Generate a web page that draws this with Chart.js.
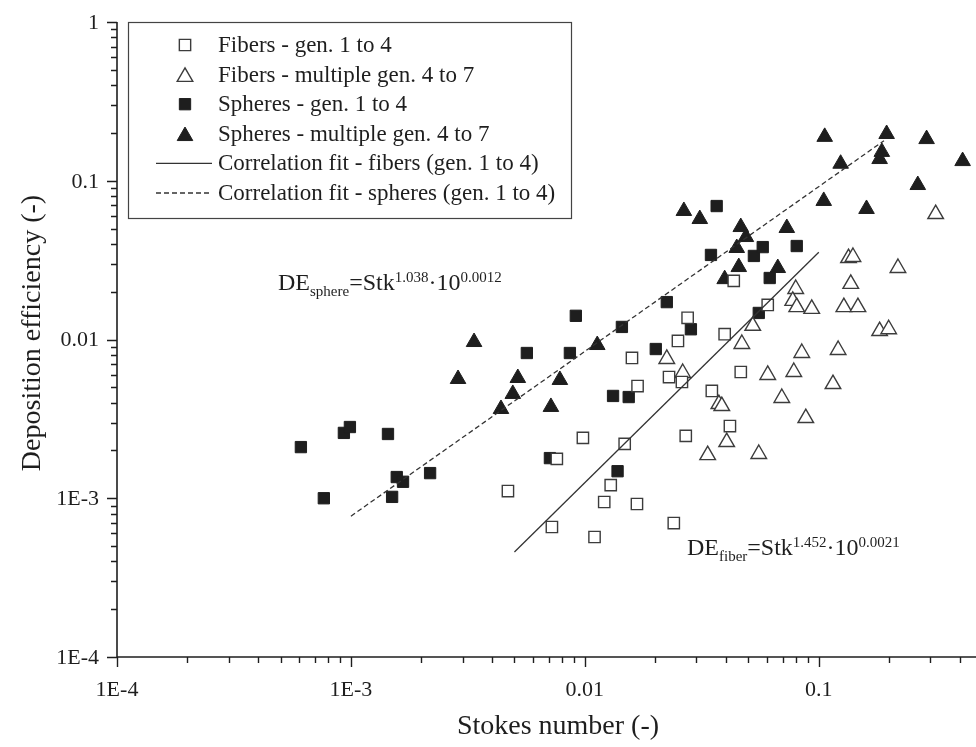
<!DOCTYPE html>
<html>
<head>
<meta charset="utf-8">
<title>Deposition efficiency vs Stokes number</title>
<script src="https://cdn.jsdelivr.net/npm/chart.js@4.4.1/dist/chart.umd.min.js"></script>
<style>
  html, body { margin: 0; padding: 0; background: #fff; }
  #wrap { width: 976px; height: 747px; }
</style>
</head>
<body>
<div id="wrap"><canvas id="depositionChart" width="976" height="747"></canvas></div>
<script>
// Fibers, generations 1 to 4
const fiberGenStk = [0.00469, 0.00723, 0.00759, 0.00981, 0.0110, 0.0121, 0.0129, 0.0148, 0.0159, 0.0168, 0.0229, 0.0260,
    0.0167, 0.0240, 0.0270, 0.0349, 0.0250, 0.0275, 0.0417, 0.0396, 0.0464, 0.0433, 0.0605];
const fiberGenDE = [0.00111, 0.000659, 0.00177, 0.00240, 0.000570, 0.000947, 0.00121, 0.00220, 0.00765, 0.00509, 0.00580, 0.00540,
    0.000920, 0.000698, 0.00247, 0.00474, 0.00979, 0.0137, 0.00285, 0.0108, 0.00624, 0.0234, 0.0165];

// Fibers, multiple generations 4 to 7
const fiberMultiStk = [0.0224, 0.0262, 0.0374, 0.0385, 0.0335, 0.0404, 0.0554, 0.0695, 0.0880, 0.0605, 0.0782, 0.115,
    0.0469, 0.0522, 0.0846, 0.121, 0.0797, 0.0774, 0.0805, 0.0933, 0.128, 0.147, 0.137, 0.134, 0.140, 0.218, 0.182, 0.199, 0.316];
const fiberMultiDE = [0.00754, 0.00615, 0.00392, 0.00381, 0.00187, 0.00226, 0.00190, 0.00428, 0.00320, 0.00598, 0.00624, 0.00524,
    0.00937, 0.0122, 0.00822, 0.00859, 0.0208, 0.0175, 0.0160, 0.0156, 0.0160, 0.0160, 0.0224, 0.0326, 0.0331, 0.0282, 0.0113, 0.0116, 0.0617];

// Spheres, generations 1 to 4
const sphereGenStk = [0.000611, 0.000766, 0.000933, 0.000990, 0.00144, 0.00150, 0.00157, 0.00167, 0.00218, 0.00565, 0.00863, 0.00915,
    0.00709, 0.0132, 0.0154, 0.0138, 0.0144, 0.0201, 0.0224, 0.0284, 0.0346, 0.0366, 0.0528, 0.0576, 0.0805, 0.0617, 0.0554];
const sphereGenDE = [0.00210, 0.00100, 0.00258, 0.00281, 0.00254, 0.00102, 0.00136, 0.00127, 0.00144, 0.00822, 0.00822, 0.0141,
    0.00179, 0.00441, 0.00434, 0.00148, 0.0120, 0.00871, 0.0172, 0.0116, 0.0341, 0.0693, 0.0336, 0.0382, 0.0388, 0.0244, 0.0147];

// Spheres, multiple generations 4 to 7
const sphereMultiStk = [0.00287, 0.00336, 0.00438, 0.00492, 0.00517, 0.00716, 0.00782, 0.0113, 0.0265, 0.0310, 0.0464, 0.0488,
    0.0730, 0.0446, 0.0455, 0.0668, 0.0396, 0.106, 0.195, 0.289, 0.412, 0.186, 0.182, 0.124, 0.265, 0.105, 0.160];
const sphereMultiDE = [0.00564, 0.00964, 0.00365, 0.00454, 0.00572, 0.00376, 0.00556, 0.00923, 0.0645, 0.0574, 0.0511, 0.0442,
    0.0504, 0.0377, 0.0286, 0.0282, 0.0240, 0.189, 0.197, 0.183, 0.133, 0.152, 0.137, 0.128, 0.0940, 0.0746, 0.0664];

// Correlation fits DE = Stk^a * 10^b over the fitted Stokes range
const fiberFitExp = 1.452;
const fiberFitConst = 0.0021;
const fiberFitRange = [0.005, 0.1];
const sphereFitExp = 1.038;
const sphereFitConst = 0.0012;
const sphereFitRange = [0.001, 0.19];

// Axis ticks
const xTickValues = [1e-4, 1e-3, 0.01, 0.1];
const xTickLabels = ['1E-4', '1E-3', '0.01', '0.1'];
const yTickValues = [1e-4, 1e-3, 0.01, 0.1, 1];
const yTickLabels = ['1E-4', '1E-3', '0.01', '0.1', '1'];

const legendLabels = [
    'Fibers - gen. 1 to 4',
    'Fibers - multiple gen. 4 to 7',
    'Spheres - gen. 1 to 4',
    'Spheres - multiple gen. 4 to 7',
    'Correlation fit - fibers (gen. 1 to 4)',
    'Correlation fit - spheres (gen. 1 to 4)'
];

const SERIF = '"Liberation Serif", "Times New Roman", serif';
const INK = '#1e1e1e';
const OPEN_EDGE = '#3c3c3c';

function toPoints(xs, ys) {
    return xs.map((x, i) => ({ x: x, y: ys[i] }));
}

function fitPoints(exp, c, range) {
    return range.map(s => ({ x: s, y: Math.pow(s, exp) * Math.pow(10, c) }));
}

function minorTicks(values, max) {
    const out = [];
    values.forEach(d => {
        for (let m = 2; m <= 9; m++) {
            if (d * m < max) out.push(d * m);
        }
    });
    return out;
}

// Marker drawn with the same geometry Chart.js uses for rect / triangle
function drawMarker(ctx, style, x, y, r, fill, stroke, lw) {
    ctx.beginPath();
    if (style === 'rect') {
        const s = r * Math.SQRT1_2;
        ctx.rect(x - s, y - s, 2 * s, 2 * s);
    } else {
        ctx.moveTo(x, y - r);
        ctx.lineTo(x + r * 0.866, y + r * 0.5);
        ctx.lineTo(x - r * 0.866, y + r * 0.5);
        ctx.closePath();
    }
    ctx.fillStyle = fill;
    ctx.fill();
    ctx.lineWidth = lw;
    ctx.strokeStyle = stroke;
    ctx.stroke();
}

// Axes, ticks, tick labels and titles
function drawAxes(chart) {
    const ctx = chart.ctx;
    const xs = chart.scales.x;
    const ys = chart.scales.y;
    const area = chart.chartArea;

    ctx.save();
    ctx.strokeStyle = INK;
    ctx.lineWidth = 1.6;
    ctx.beginPath();
    ctx.moveTo(area.left, area.top);
    ctx.lineTo(area.left, area.bottom);
    ctx.lineTo(area.right, area.bottom);
    ctx.stroke();

    ctx.lineWidth = 1.4;
    ctx.beginPath();
    minorTicks(xTickValues, xs.max).forEach(v => {
        const px = Math.round(xs.getPixelForValue(v)) + 0.5;
        ctx.moveTo(px, area.bottom);
        ctx.lineTo(px, area.bottom + 6);
    });
    xTickValues.forEach(v => {
        const px = Math.round(xs.getPixelForValue(v)) + 0.5;
        ctx.moveTo(px, area.bottom);
        ctx.lineTo(px, area.bottom + 10);
    });
    minorTicks(yTickValues.slice(0, -1), ys.max + 1e-9).forEach(v => {
        const py = Math.round(ys.getPixelForValue(v)) + 0.5;
        ctx.moveTo(area.left, py);
        ctx.lineTo(area.left - 6, py);
    });
    yTickValues.forEach(v => {
        const py = Math.round(ys.getPixelForValue(v)) + 0.5;
        ctx.moveTo(area.left, py);
        ctx.lineTo(area.left - 10, py);
    });
    ctx.stroke();

    ctx.fillStyle = INK;
    ctx.font = '22px ' + SERIF;
    ctx.textAlign = 'center';
    ctx.textBaseline = 'middle';
    xTickValues.forEach((v, i) => {
        ctx.fillText(xTickLabels[i], xs.getPixelForValue(v), area.bottom + 33);
    });
    ctx.textAlign = 'right';
    yTickValues.forEach((v, i) => {
        ctx.fillText(yTickLabels[i], area.left - 18, ys.getPixelForValue(v) + 1);
    });

    ctx.font = '28px ' + SERIF;
    ctx.textAlign = 'center';
    ctx.fillText('Stokes number (-)', 558, 727);
    ctx.translate(33, 333);
    ctx.rotate(-Math.PI / 2);
    ctx.fillText('Deposition efficiency (-)', 0, 0);
    ctx.restore();
}

// Legend box in the upper left of the plot
function drawLegend(chart) {
    const ctx = chart.ctx;
    ctx.save();
    ctx.fillStyle = '#fff';
    ctx.fillRect(128, 22, 443, 196);
    ctx.strokeStyle = '#444';
    ctx.lineWidth = 1.2;
    ctx.strokeRect(128.5, 22.5, 443, 196);

    chart.data.datasets.forEach((ds, i) => {
        const y = 45 + i * 29.6;
        if (ds.type === 'line') {
            ctx.save();
            ctx.strokeStyle = ds.borderColor;
            ctx.lineWidth = ds.borderWidth;
            ctx.setLineDash(ds.borderDash || []);
            ctx.beginPath();
            ctx.moveTo(156, y);
            ctx.lineTo(212, y);
            ctx.stroke();
            ctx.restore();
        } else {
            const dy = ds.pointStyle === 'triangle' ? ds.pointRadius * 0.25 : 0;
            drawMarker(ctx, ds.pointStyle, 185, y + dy, ds.pointRadius,
                ds.backgroundColor, ds.borderColor, ds.borderWidth);
        }
        ctx.fillStyle = INK;
        ctx.font = '23px ' + SERIF;
        ctx.textAlign = 'left';
        ctx.textBaseline = 'middle';
        ctx.fillText(legendLabels[i], 218, y + 1);
    });
    ctx.restore();
}

// DE_sub = Stk^exp · 10^const
function drawFitLabel(ctx, x, base, sub, exp, c) {
    const big = '24px ' + SERIF;
    const small = '15px ' + SERIF;
    ctx.save();
    ctx.fillStyle = INK;
    ctx.textAlign = 'left';
    ctx.textBaseline = 'alphabetic';
    const parts = [
        ['DE', big, 0],
        [sub, small, 6],
        ['=Stk', big, 0],
        [exp, small, -8],
        ['\u00b710', big, 0],
        [c, small, -8]
    ];
    parts.forEach(p => {
        ctx.font = p[1];
        ctx.fillText(p[0], x, base + p[2]);
        x += ctx.measureText(p[0]).width;
    });
    ctx.restore();
}

const decorPlugin = {
    id: 'decor',
    afterDraw(chart) {
        drawAxes(chart);
        drawLegend(chart);
        drawFitLabel(chart.ctx, 278, 290, 'sphere', sphereFitExp.toFixed(3), sphereFitConst.toFixed(4));
        drawFitLabel(chart.ctx, 687, 555, 'fiber', fiberFitExp.toFixed(3), fiberFitConst.toFixed(4));
    }
};

function initDepositionChart() {
    const ctx = document.getElementById('depositionChart');

    new Chart(ctx, {
        type: 'scatter',
        data: {
            datasets: [
                {
                    label: legendLabels[0],
                    data: toPoints(fiberGenStk, fiberGenDE),
                    pointStyle: 'rect',
                    pointRadius: 8,
                    backgroundColor: '#fff',
                    borderColor: OPEN_EDGE,
                    borderWidth: 1.4,
                    order: 2
                },
                {
                    label: legendLabels[1],
                    data: toPoints(fiberMultiStk, fiberMultiDE),
                    pointStyle: 'triangle',
                    pointRadius: 9,
                    backgroundColor: '#fff',
                    borderColor: OPEN_EDGE,
                    borderWidth: 1.4,
                    order: 2
                },
                {
                    label: legendLabels[2],
                    data: toPoints(sphereGenStk, sphereGenDE),
                    pointStyle: 'rect',
                    pointRadius: 8,
                    backgroundColor: INK,
                    borderColor: INK,
                    borderWidth: 1,
                    order: 3
                },
                {
                    label: legendLabels[3],
                    data: toPoints(sphereMultiStk, sphereMultiDE),
                    pointStyle: 'triangle',
                    pointRadius: 9,
                    backgroundColor: INK,
                    borderColor: INK,
                    borderWidth: 1,
                    order: 3
                },
                {
                    type: 'line',
                    label: legendLabels[4],
                    data: fitPoints(fiberFitExp, fiberFitConst, fiberFitRange),
                    borderColor: '#333',
                    borderWidth: 1.3,
                    pointRadius: 0,
                    fill: false,
                    order: 1
                },
                {
                    type: 'line',
                    label: legendLabels[5],
                    data: fitPoints(sphereFitExp, sphereFitConst, sphereFitRange),
                    borderColor: '#333',
                    borderWidth: 1.3,
                    borderDash: [5, 3],
                    pointRadius: 0,
                    fill: false,
                    order: 1
                }
            ]
        },
        options: {
            responsive: false,
            animation: false,
            layout: {
                autoPadding: false,
                padding: { left: 117, top: 22, right: 0, bottom: 90 }
            },
            plugins: {
                legend: { display: false },
                tooltip: { enabled: false }
            },
            scales: {
                x: {
                    type: 'logarithmic',
                    min: xTickValues[0],
                    max: 0.47,
                    bounds: 'data',
                    display: false
                },
                y: {
                    type: 'logarithmic',
                    min: yTickValues[0],
                    max: yTickValues[yTickValues.length - 1],
                    bounds: 'data',
                    display: false
                }
            }
        },
        plugins: [decorPlugin]
    });
}

document.addEventListener('DOMContentLoaded', initDepositionChart);
</script>
</body>
</html>
